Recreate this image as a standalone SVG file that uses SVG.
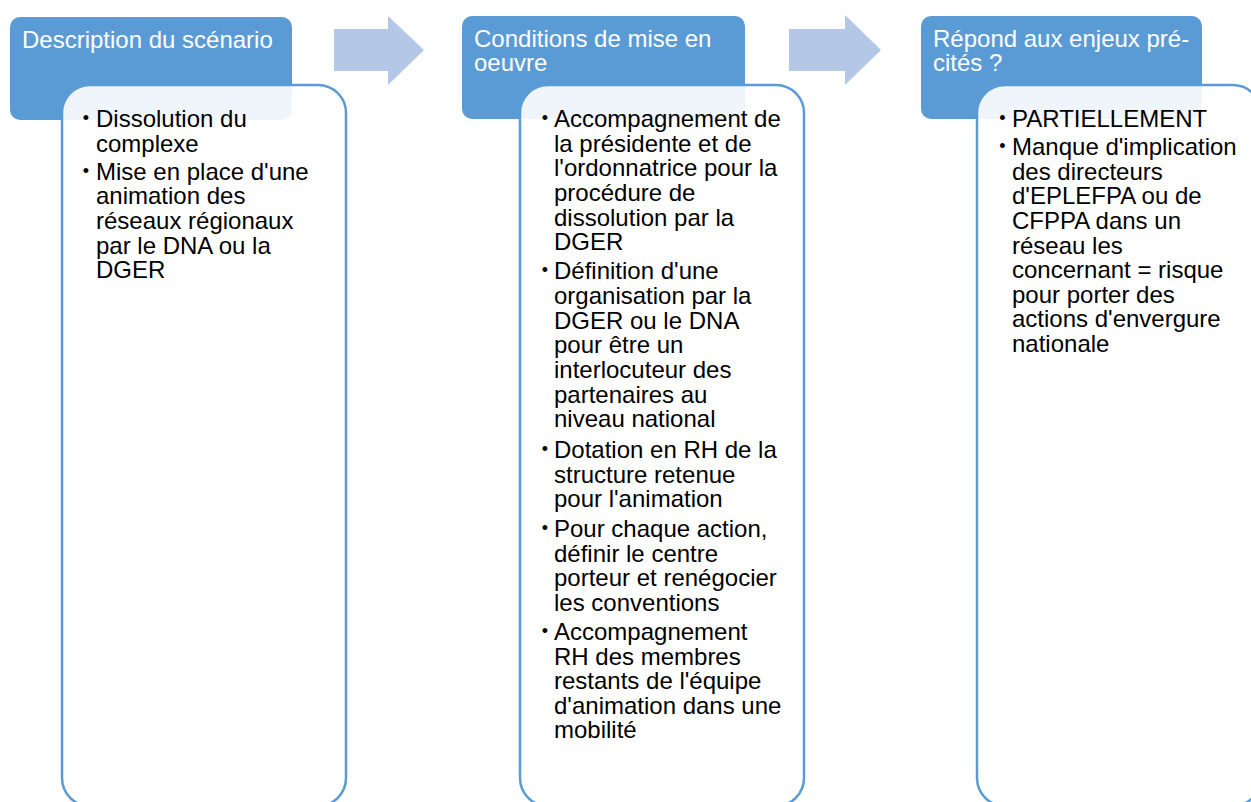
<svg xmlns="http://www.w3.org/2000/svg" width="1251" height="802" viewBox="0 0 1251 802">
<style>
.hdr{fill:#5B9BD5}
.body{fill:#FFFFFF;fill-opacity:0.9;stroke:#5B9BD5;stroke-width:2.5}
.arr{fill:#B4C7E7}
.ht{font-family:"Liberation Sans",Arial,sans-serif;font-size:24px;fill:#FFFFFF}
.bt{font-family:"Liberation Sans",Arial,sans-serif;font-size:24px;fill:#000000}
.bu{font-family:"Liberation Sans",Arial,sans-serif;font-size:18px;fill:#000000}
</style>
<rect width="1251" height="802" fill="#FFFFFF"/>
<g id="connectors">
<polygon class="arr" points="334,29 388,29 388,16 424,50 388,85 388,71 334,71"/>
<polygon class="arr" points="789,29 845,29 845,15 881,50 845,85 845,71 789,71"/>
</g>
<g id="node1">
<rect class="hdr" x="10" y="17" width="282" height="103" rx="10"/>
<text class="ht" x="22" y="48">Description du scénario</text>
<rect class="body" x="62" y="85" width="284" height="721" rx="28"/>
<text class="bu"><tspan x="82.8" y="124.3">•</tspan><tspan x="82.8" y="177.3">•</tspan></text>
<text class="bt">
<tspan x="96" y="127">Dissolution du</tspan>
<tspan x="96" y="152">complexe</tspan>
<tspan x="96" y="180">Mise en place d'une</tspan>
<tspan x="96" y="204">animation des</tspan>
<tspan x="96" y="229">réseaux régionaux</tspan>
<tspan x="96" y="254">par le DNA ou la</tspan>
<tspan x="96" y="278">DGER</tspan>
</text>
</g>
<g id="node2">
<rect class="hdr" x="462" y="16" width="283" height="103" rx="10"/>
<text class="ht"><tspan x="474" y="47">Conditions de mise en</tspan><tspan x="474" y="71">oeuvre</tspan></text>
<rect class="body" x="520" y="85" width="284" height="721" rx="28"/>
<text class="bu"><tspan x="541.8" y="124.3">•</tspan><tspan x="541.8" y="276.3">•</tspan><tspan x="541.8" y="455.3">•</tspan><tspan x="541.8" y="534.3">•</tspan><tspan x="541.8" y="637.3">•</tspan></text>
<text class="bt">
<tspan x="554" y="127">Accompagnement de</tspan>
<tspan x="554" y="152">la présidente et de</tspan>
<tspan x="554" y="176">l'ordonnatrice pour la</tspan>
<tspan x="554" y="201">procédure de</tspan>
<tspan x="554" y="226">dissolution par la</tspan>
<tspan x="554" y="250">DGER</tspan>
<tspan x="554" y="279">Définition d'une</tspan>
<tspan x="554" y="304">organisation par la</tspan>
<tspan x="554" y="329">DGER ou le DNA</tspan>
<tspan x="554" y="353">pour être un</tspan>
<tspan x="554" y="378">interlocuteur des</tspan>
<tspan x="554" y="403">partenaires au</tspan>
<tspan x="554" y="427">niveau national</tspan>
<tspan x="554" y="458">Dotation en RH de la</tspan>
<tspan x="554" y="483">structure retenue</tspan>
<tspan x="554" y="507">pour l'animation</tspan>
<tspan x="554" y="537">Pour chaque action,</tspan>
<tspan x="554" y="562">définir le centre</tspan>
<tspan x="554" y="586">porteur et renégocier</tspan>
<tspan x="554" y="611">les conventions</tspan>
<tspan x="554" y="640">Accompagnement</tspan>
<tspan x="554" y="665">RH des membres</tspan>
<tspan x="554" y="689">restants de l'équipe</tspan>
<tspan x="554" y="714">d'animation dans une</tspan>
<tspan x="554" y="738">mobilité</tspan>
</text>
</g>
<g id="node3">
<rect class="hdr" x="921" y="16" width="281" height="103" rx="10"/>
<text class="ht"><tspan x="933" y="47">Répond aux enjeux pré-</tspan><tspan x="933" y="71">cités ?</tspan></text>
<rect class="body" x="977" y="85" width="284" height="721" rx="28"/>
<text class="bu"><tspan x="999.3" y="124.3">•</tspan><tspan x="999.3" y="152.3">•</tspan></text>
<text class="bt">
<tspan x="1012" y="127">PARTIELLEMENT</tspan>
<tspan x="1012" y="155">Manque d'implication</tspan>
<tspan x="1012" y="180">des directeurs</tspan>
<tspan x="1012" y="204">d'EPLEFPA ou de</tspan>
<tspan x="1012" y="229">CFPPA dans un</tspan>
<tspan x="1012" y="254">réseau les</tspan>
<tspan x="1012" y="278">concernant = risque</tspan>
<tspan x="1012" y="303">pour porter des</tspan>
<tspan x="1012" y="327">actions d'envergure</tspan>
<tspan x="1012" y="352">nationale</tspan>
</text>
</g>
</svg>
